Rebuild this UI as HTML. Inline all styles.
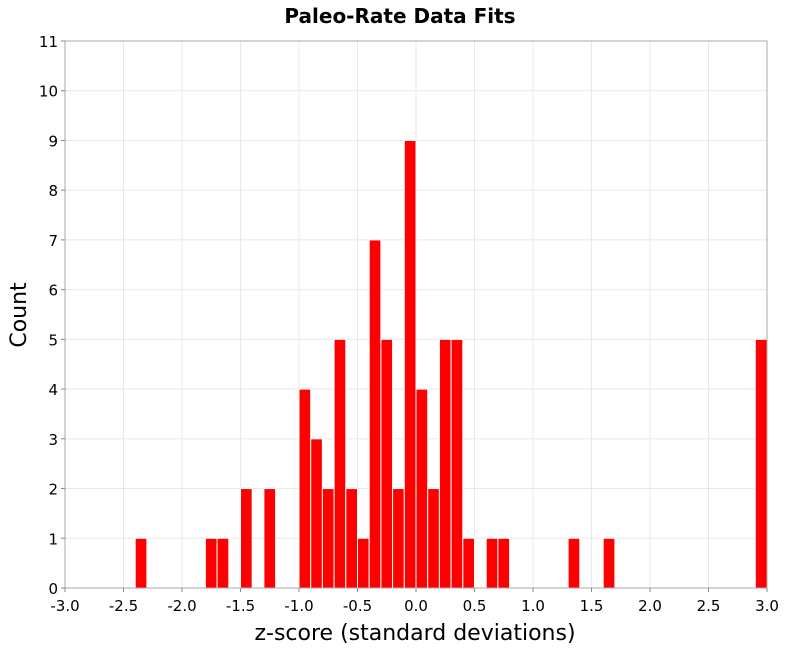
<!DOCTYPE html>
<html><head><meta charset="utf-8"><style>
body{margin:0;background:#fff;font-family:"DejaVu Sans","Liberation Sans",sans-serif;}
</style></head><body>
<svg width="800" height="650" xmlns="http://www.w3.org/2000/svg">
<text x="400" y="23" text-anchor="middle" font-size="20" font-weight="bold" font-family="DejaVu Sans, sans-serif">Paleo-Rate Data Fits</text>
<g id="grid"></g>
<g id="bars"></g>
<rect x="65" y="41" width="702" height="547" fill="none" stroke="#aaa"/>
<g id="axes"></g>
<text x="415" y="640" text-anchor="middle" font-size="22">z-score (standard deviations)</text>
<text x="26" y="315" text-anchor="middle" font-size="22" transform="rotate(-90 26 315)">Count</text>
</svg>
<script>
const binCenters=[-2.35,-1.75,-1.65,-1.45,-1.25,-0.95,-0.85,-0.75,-0.65,-0.55,-0.45,-0.35,-0.25,-0.15,-0.05,0.05,0.15,0.25,0.35,0.45,0.65,0.75,1.35,1.65,2.95];
const counts=[1,1,1,2,2,4,3,2,5,2,1,7,5,2,9,4,2,5,5,1,1,1,1,1,5];
const xTicks=[-3,-2.5,-2,-1.5,-1,-0.5,0,0.5,1,1.5,2,2.5,3];
const yTicks=[0,1,2,3,4,5,6,7,8,9,10,11];
const binWidth=0.1;
const X0=65,X1=767,Y0=588,Y1=41;
const xs=v=>X0+(v+3)/6*(X1-X0);
const ys=v=>Y0-v/11*(Y0-Y1);
const NS="http://www.w3.org/2000/svg";
const grid=document.getElementById('grid'),bars=document.getElementById('bars'),axes=document.getElementById('axes');
function mk(tag,attrs,parent){const e=document.createElementNS(NS,tag);for(const k in attrs)e.setAttribute(k,attrs[k]);parent.appendChild(e);return e;}
xTicks.forEach(t=>{
 const g=mk('line',{x1:xs(t),x2:xs(t),y1:Y1,y2:Y0,stroke:'#e8e8e8'},grid);
 
 
 const tk=mk('line',{x1:xs(t),x2:xs(t),y1:Y0,y2:Y0+4,stroke:'#888'},axes);
 
 
 const l=mk('text',{x:xs(t),y:611,'text-anchor':'middle','font-size':15},axes);
 l.textContent=t.toFixed(1);
 
 
});
yTicks.forEach(t=>{
 const g=mk('line',{x1:X0,x2:X1,y1:ys(t),y2:ys(t),stroke:'#e8e8e8'},grid);
 
 
 const tk=mk('line',{x1:X0-4,x2:X0,y1:ys(t),y2:ys(t),stroke:'#888'},axes);
 
 
 const l=mk('text',{x:58,y:ys(t)+6,'text-anchor':'end','font-size':15},axes);
 l.textContent=t;
 
 
});
binCenters.forEach((c,i)=>{
 const x=xs(c-binWidth/2),w=xs(c+binWidth/2)-x;
 const r=mk('rect',{x:x,y:ys(counts[i]),width:w,height:Y0-ys(counts[i]),fill:'#ff0000',stroke:'#fff','stroke-width':1},bars);
 
 
});
</script>
</body></html>
